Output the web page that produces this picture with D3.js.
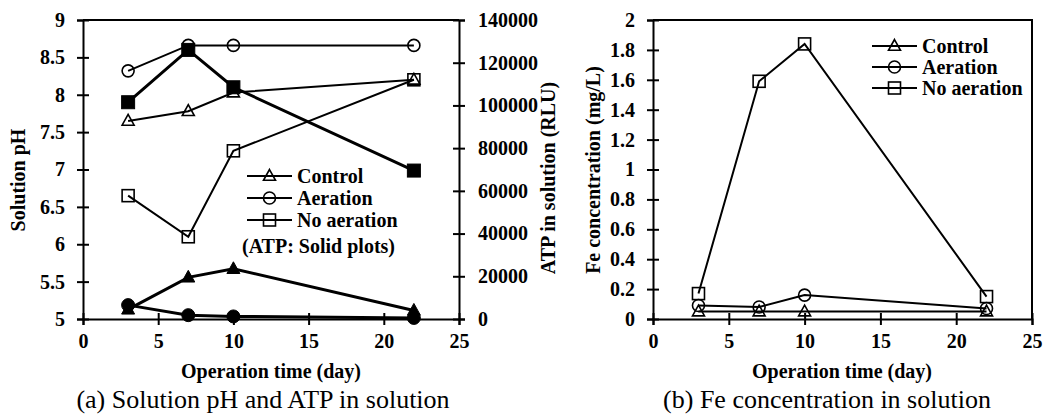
<!DOCTYPE html>
<html><head><meta charset="utf-8">
<script src="https://cdn.jsdelivr.net/npm/d3@7"></script>
<style>
body{margin:0;background:#fff;}
svg{display:block;font-family:"Liberation Serif","Times New Roman",serif;}
.ax text{font-size:20px;font-weight:bold;fill:#000;font-family:"Liberation Serif",serif;}
.ax path,.ax line{stroke:#000;stroke-width:2px;}
</style></head><body>
<svg id="c" width="1043" height="417"></svg>
<script>
const days = [3, 7, 10, 22];
const phControl = [7.65, 7.78, 8.03, 8.2];
const phAeration = [8.32, 8.66, 8.66, 8.66];
const phNoAeration = [6.65, 6.1, 7.25, 8.2];
const atpControl = [4500, 19500, 23500, 4000];
const atpAeration = [6500, 1800, 1200, 500];
const atpNoAeration = [101500, 126000, 108500, 69500];
const feControl = [0.05, 0.05, 0.05, 0.05];
const feAeration = [0.09, 0.08, 0.16, 0.07];
const feNoAeration = [0.17, 1.59, 1.84, 0.15];
const xTicks = [0, 5, 10, 15, 20, 25];
const phTicks = [5, 5.5, 6, 6.5, 7, 7.5, 8, 8.5, 9];
const atpTicks = [0, 20000, 40000, 60000, 80000, 100000, 120000, 140000];
const feTicks = [0, 0.2, 0.4, 0.6, 0.8, 1, 1.2, 1.4, 1.6, 1.8, 2];
const seriesNames = ["Control", "Aeration", "No aeration"];
const seriesShapes = ["triangle", "circle", "square"];

const svg = d3.select("#c");
const TOP = 20, BOT = 319;

function marker(g, shape, x, y, size, solid) {
  const s = size / 2;
  let el;
  if (shape === "circle") {
    el = g.append("circle").attr("cx", x).attr("cy", y).attr("r", s);
  } else if (shape === "square") {
    el = g.append("rect").attr("x", x - s).attr("y", y - s).attr("width", size).attr("height", size);
  } else {
    const h = size * 0.9;
    el = g.append("path").attr("d", `M${x},${y - h * 0.6}L${x + s},${y + h * 0.4}L${x - s},${y + h * 0.4}Z`);
  }
  el.attr("fill", solid ? "#000" : "none").attr("stroke", "#000").attr("stroke-width", solid ? 1 : 1.6);
}

function series(g, x, y, xs, ys, shape, solid) {
  const pts = xs.map((d, i) => [x(d), y(ys[i])]);
  g.append("path").attr("d", d3.line()(pts)).attr("fill", "none")
    .attr("stroke", "#000").attr("stroke-width", solid ? 3 : 2);
  pts.forEach(p => marker(g, shape, p[0], p[1], solid ? 13 : 12, solid));
}

function crossTicks(axG, dir) {
  axG.selectAll(".tick line").each(function () {
    const l = d3.select(this);
    if (dir === "left") l.attr("x1", 6);
    if (dir === "right") l.attr("x1", -6);
    if (dir === "bottom") l.attr("y1", -6);
  });
}

function legend(g, x0, y0, dy) {
  seriesNames.forEach((n, i) => {
    const y = y0 + i * dy;
    g.append("line").attr("x1", x0).attr("x2", x0 + 45).attr("y1", y).attr("y2", y)
      .attr("stroke", "#000").attr("stroke-width", 2);
    marker(g, seriesShapes[i], x0 + 22.5, y, 12, false);
    g.append("text").attr("x", x0 + 50).attr("y", y).attr("dy", "0.35em")
      .attr("font-size", 20).attr("font-weight", "bold").text(n);
  });
}

// ---------- Chart (a) ----------
const xa = d3.scaleLinear().domain([0, 25]).range([83, 459]);
const yph = d3.scaleLinear().domain([5, 9]).range([BOT, TOP]);
const yatp = d3.scaleLinear().domain([0, 140000]).range([BOT, TOP]);
const ga = svg.append("g");
ga.append("line").attr("x1", 83).attr("x2", 459).attr("y1", TOP).attr("y2", TOP).attr("stroke", "#000").attr("stroke-width", 2);

let ax = ga.append("g").attr("class", "ax").attr("transform", `translate(0,${BOT})`)
  .call(d3.axisBottom(xa).tickValues(xTicks).tickSize(6).tickPadding(9).tickFormat(d3.format("d")));
crossTicks(ax, "bottom");
ax = ga.append("g").attr("class", "ax").attr("transform", "translate(83,0)")
  .call(d3.axisLeft(yph).tickValues(phTicks).tickSize(6).tickPadding(12).tickFormat(d => String(d)));
crossTicks(ax, "left");
ax = ga.append("g").attr("class", "ax").attr("transform", "translate(459,0)")
  .call(d3.axisRight(yatp).tickValues(atpTicks).tickSize(6).tickPadding(13).tickFormat(d => String(d)));
crossTicks(ax, "right");
ga.selectAll(".ax .domain").attr("stroke-width", 2.5);

const pa = ga.append("g");
series(pa, xa, yph, days, phControl, "triangle", false);
series(pa, xa, yph, days, phAeration, "circle", false);
series(pa, xa, yph, days, phNoAeration, "square", false);
series(pa, xa, yatp, days, atpControl, "triangle", true);
series(pa, xa, yatp, days, atpAeration, "circle", true);
series(pa, xa, yatp, days, atpNoAeration, "square", true);

legend(ga, 247, 176, 22);
ga.append("text").attr("x", 242).attr("y", 246).attr("dy", "0.35em").attr("font-size", 20)
  .attr("font-weight", "bold").text("(ATP: Solid plots)");

ga.append("text").attr("transform", "translate(18,180) rotate(-90)").attr("text-anchor", "middle")
  .attr("dy", "0.35em").attr("font-size", 20).attr("font-weight", "bold").text("Solution pH");
ga.append("text").attr("transform", "translate(548,178) rotate(-90)").attr("text-anchor", "middle")
  .attr("dy", "0.35em").attr("font-size", 20).attr("font-weight", "bold").text("ATP in solution (RLU)");
ga.append("text").attr("x", 271).attr("y", 378).attr("text-anchor", "middle")
  .attr("font-size", 20).attr("font-weight", "bold").text("Operation time (day)");
ga.append("text").attr("x", 263).attr("y", 408).attr("text-anchor", "middle")
  .attr("font-size", 26).text("(a) Solution pH and ATP in solution");

// ---------- Chart (b) ----------
const xb = d3.scaleLinear().domain([0, 25]).range([653, 1032]);
const yfe = d3.scaleLinear().domain([0, 2]).range([BOT, TOP]);
const gb = svg.append("g");
gb.append("path").attr("d", `M653,${TOP}H1032V${BOT}`).attr("fill", "none").attr("stroke", "#000").attr("stroke-width", 2);
ax = gb.append("g").attr("class", "ax").attr("transform", `translate(0,${BOT})`)
  .call(d3.axisBottom(xb).tickValues(xTicks).tickSize(6).tickPadding(9).tickFormat(d3.format("d")));
crossTicks(ax, "bottom");
ax = gb.append("g").attr("class", "ax").attr("transform", "translate(653,0)")
  .call(d3.axisLeft(yfe).tickValues(feTicks).tickSize(6).tickPadding(12).tickFormat(d => String(d)));
crossTicks(ax, "left");
gb.selectAll(".ax .domain").attr("stroke-width", 2.5);

const pb = gb.append("g");
series(pb, xb, yfe, days, feControl, "triangle", false);
series(pb, xb, yfe, days, feAeration, "circle", false);
series(pb, xb, yfe, days, feNoAeration, "square", false);

legend(gb, 872, 46, 21);

gb.append("text").attr("transform", "translate(593,170) rotate(-90)").attr("text-anchor", "middle")
  .attr("dy", "0.35em").attr("font-size", 20).attr("font-weight", "bold").text("Fe concentration (mg/L)");
gb.append("text").attr("x", 842).attr("y", 378).attr("text-anchor", "middle")
  .attr("font-size", 20).attr("font-weight", "bold").text("Operation time (day)");
gb.append("text").attr("x", 827).attr("y", 408).attr("text-anchor", "middle")
  .attr("font-size", 26).text("(b) Fe concentration in solution");
</script></body></html>
